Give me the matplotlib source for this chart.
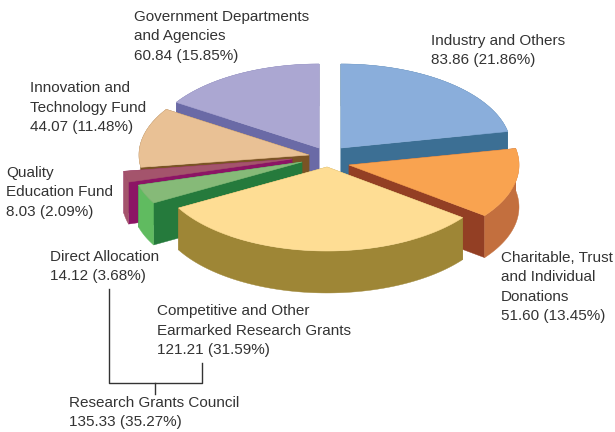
import numpy as np
import matplotlib
matplotlib.use('Agg')
import matplotlib.pyplot as plt
from matplotlib.patches import Polygon

# clockwise from 12 o'clock
names = ['Industry and Others', 'Charitable, Trust\nand Individual\nDonations',
         'Competitive and Other\nEarmarked Research Grants', 'Direct Allocation',
         'Quality\nEducation Fund', 'Innovation and\nTechnology Fund',
         'Government Departments\nand Agencies']
values = [83.86, 51.60, 121.21, 14.12, 8.03, 44.07, 60.84]
percents = [21.86, 13.45, 31.59, 3.68, 2.09, 11.48, 15.85]
group_name = 'Research Grants Council'
group_value = 135.33
group_percent = 35.27

top_colors = ['#8aaedb', '#f9a350', '#fedd94', '#86ba78', '#a4546c', '#e9c195', '#aba7d2']
cut_colors = ['#3c6f94', '#933f24', '#9e8636', '#257a3c', '#8c1465', '#7a5325', '#6a6aa6']
rim_colors = ['#3c6f94', '#c36f3e', '#9e8636', '#60bb60', '#a4546c', '#7a5325', '#6a6aa6']

# pie centre of each exploded slice, in pixels
apex_x = [341, 349, 327, 302, 292, 309, 319]
apex_y = [148, 165, 167, 162, 159, 155, 148]
radius = 170
squash = 0.494
depth = 42

label_x = [431, 501, 157, 50, 6, 30, 134]
label_y = [34, 251, 304.5, 250, 166, 81.5, 10]

plt.rcParams['font.family'] = ['Liberation Sans', 'DejaVu Sans']

fig = plt.figure(figsize=(6.15, 4.32), dpi=100)
ax = fig.add_axes([0, 0, 1, 1])
ax.set_xlim(0, 615)
ax.set_ylim(432, 0)
ax.axis('off')


def edge_point(cx, cy, theta):
    return cx + radius * np.sin(theta), cy - radius * squash * np.cos(theta)


def draw_slice(i, start, end):
    cx, cy = apex_x[i], apex_y[i]
    t = np.linspace(start, end, 80)
    xs, ys = edge_point(cx, cy, t)
    for theta in (start, end):
        ex, ey = edge_point(cx, cy, theta)
        cut = [(cx, cy), (ex, ey), (ex, ey + depth), (cx, cy + depth)]
        ax.add_patch(Polygon(cut, closed=True, fc=cut_colors[i], ec=cut_colors[i], lw=0.3))
    rim = list(zip(xs, ys)) + list(zip(xs[::-1], ys[::-1] + depth))
    ax.add_patch(Polygon(rim, closed=True, fc=rim_colors[i], ec=rim_colors[i], lw=0.3))
    top = [(cx, cy)] + list(zip(xs, ys))
    ax.add_patch(Polygon(top, closed=True, fc=top_colors[i], ec=top_colors[i], lw=0.4))


angles = np.concatenate([[0], np.cumsum(values)]) / np.sum(values) * 2 * np.pi
for i in [0, 6, 5, 4, 3, 1, 2]:
    draw_slice(i, angles[i], angles[i + 1])

for i in range(len(names)):
    ax.text(label_x[i], label_y[i], f'{names[i]}\n{values[i]:.2f} ({percents[i]:.2f}%)',
            fontsize=10.95, color='#333333', ha='left', va='top', linespacing=1.48)
ax.text(69, 396, f'{group_name}\n{group_value:.2f} ({group_percent:.2f}%)',
        fontsize=10.95, color='#333333', ha='left', va='top', linespacing=1.48)

# bracket joining the two research grant items
ax.plot([109, 109, 202, 202], [289, 383, 383, 363], color='#333333', lw=1)
ax.plot([155, 155], [383, 394], color='#333333', lw=1)

fig.savefig('out.png', dpi=100)
